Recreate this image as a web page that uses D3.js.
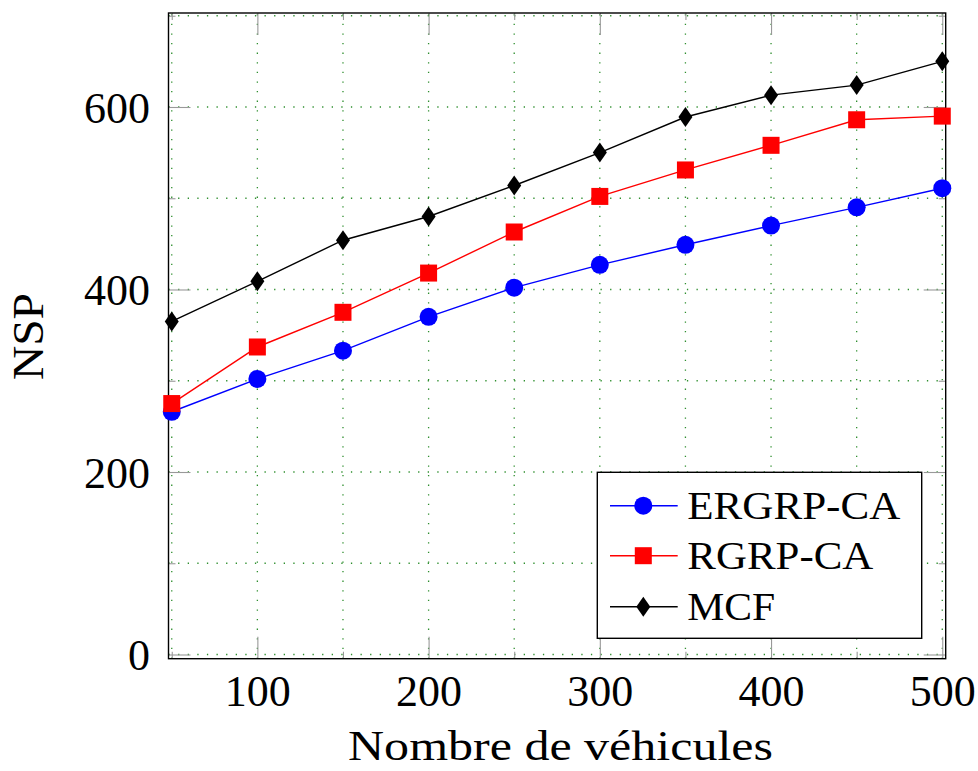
<!DOCTYPE html>
<html><head><meta charset="utf-8">
<script src="https://cdn.jsdelivr.net/npm/d3@7"></script>
<style>body{margin:0;background:#fff} svg{display:block}</style>
</head><body>
<script>
// ---- data ----
const vehicles = [50, 100, 150, 200, 250, 300, 350, 400, 450, 500];
const ergrpCA = [266, 302, 333, 370, 402, 427, 449, 470, 490, 511];
const rgrpCA  = [275, 337, 375, 418, 463, 502, 531, 558, 586, 590];
const mcf     = [365, 409, 454, 480, 514, 550, 589, 613, 624, 650];
const seriesNames = ["ERGRP-CA", "RGRP-CA", "MCF"];
const xMajorTicks = [100, 200, 300, 400, 500];
const xMinorTicks = [50, 150, 250, 350, 450];
const yMajorTicks = [0, 200, 400, 600];
const yMinorTicks = [100, 300, 500, 700];
const xLabel = "Nombre de véhicules";
const yLabel = "NSP";

// ---- layout ----
const W = 978, H = 771;
const L = 168.5, R = 945.7, T = 13, B = 658.7;
const FONT = "'Liberation Serif','Times New Roman',serif";

const svg = d3.select("body").append("svg").attr("width", W).attr("height", H);

const x = d3.scaleLinear().domain([48.1, 502]).range([L, R]);
const y = d3.scaleLinear().domain([-4.6, 703]).range([B, T]);

// grid (dotted green) at every 50 / 100
const gridX = xMinorTicks.concat(xMajorTicks);
const gridY = yMinorTicks.concat(yMajorTicks);
const gridStyle = g => g.attr("stroke", "#2f8f2f").attr("stroke-width", 1.3)
  .attr("stroke-dasharray", "1.3,8.3").attr("fill", "none");
svg.append("g").selectAll("line").data(gridX).join("line")
  .attr("x1", d => x(d)).attr("x2", d => x(d)).attr("y1", B).attr("y2", T)
  .call(gridStyle);
svg.append("g").selectAll("line").data(gridY).join("line")
  .attr("x1", L).attr("x2", R).attr("y1", d => y(d)).attr("y2", d => y(d))
  .call(gridStyle);

// inside ticks (gray) using d3 axes
function tickAxis(axisFn, scale, vals, size, transform) {
  const g = svg.append("g").attr("transform", transform)
    .call(axisFn(scale).tickValues(vals).tickSize(size).tickFormat(""));
  g.select(".domain").remove();
  g.selectAll(".tick line").attr("stroke", "#999").attr("stroke-width", 1.1);
}
tickAxis(d3.axisBottom, x, xMajorTicks, -22, `translate(0,${B})`);
tickAxis(d3.axisBottom, x, xMinorTicks, -7, `translate(0,${B})`);
tickAxis(d3.axisTop, x, xMajorTicks, -22, `translate(0,${T})`);
tickAxis(d3.axisTop, x, xMinorTicks, -7, `translate(0,${T})`);
tickAxis(d3.axisLeft, y, yMajorTicks, -22, `translate(${L},0)`);
tickAxis(d3.axisLeft, y, yMinorTicks, -7, `translate(${L},0)`);
tickAxis(d3.axisRight, y, yMajorTicks, -22, `translate(${R},0)`);
tickAxis(d3.axisRight, y, yMinorTicks, -7, `translate(${R},0)`);

// tick labels via axes
const xa = svg.append("g").attr("transform", `translate(0,${B})`)
  .call(d3.axisBottom(x).tickValues(xMajorTicks).tickSize(0).tickPadding(0));
xa.select(".domain").remove();
xa.selectAll("text").attr("font-family", FONT).attr("font-size", 44).attr("fill", "#000")
  .attr("dy", null).attr("y", 706 - B);
const ya = svg.append("g").attr("transform", `translate(${L},0)`)
  .call(d3.axisLeft(y).tickValues(yMajorTicks).tickSize(0).tickPadding(0));
ya.select(".domain").remove();
ya.selectAll("text").attr("font-family", FONT).attr("font-size", 44).attr("fill", "#000")
  .attr("x", 150 - L).attr("dy", "0.35em");

// frame
svg.append("rect").attr("x", L).attr("y", T).attr("width", R - L).attr("height", B - T)
  .attr("fill", "none").attr("stroke", "#000").attr("stroke-width", 1.4);

// series
const symbols = ["circle", "square", "diamond"];
const colors = ["#0000ff", "#ff0000", "#000000"];
const allSeries = [ergrpCA, rgrpCA, mcf];

function marker(g, kind, color) {
  if (kind === "circle") {
    g.append("circle").attr("r", 9).attr("fill", color);
  } else if (kind === "square") {
    g.append("rect").attr("x", -8.5).attr("y", -8.5).attr("width", 17).attr("height", 17).attr("fill", color);
  } else {
    g.append("path").attr("d", "M0,-10L7,0L0,10L-7,0Z").attr("fill", color);
  }
}

const line = d3.line().x((d, i) => x(vehicles[i])).y(d => y(d));
allSeries.forEach((vals, si) => {
  svg.append("path").datum(vals).attr("d", line).attr("fill", "none")
    .attr("stroke", colors[si]).attr("stroke-width", 1.4);
});
allSeries.forEach((vals, si) => {
  vals.forEach((v, i) => {
    const g = svg.append("g").attr("transform", `translate(${x(vehicles[i])},${y(v)})`);
    marker(g, symbols[si], colors[si]);
  });
});

// legend
const lg = svg.append("g");
lg.append("rect").attr("x", 597.3).attr("y", 472.3).attr("width", 324.4).attr("height", 166)
  .attr("fill", "#fff").attr("stroke", "#000").attr("stroke-width", 1.4);
const rowY = [505.7, 555.7, 606.7];
const legendWidths = [213, 186, 88];
seriesNames.forEach((name, si) => {
  lg.append("line").attr("x1", 610).attr("x2", 677.7).attr("y1", rowY[si]).attr("y2", rowY[si])
    .attr("stroke", colors[si]).attr("stroke-width", 1.4);
  const g = lg.append("g").attr("transform", `translate(643.3,${rowY[si]})`);
  marker(g, symbols[si], colors[si]);
  lg.append("text").attr("x", 687.3).attr("y", rowY[si]).attr("dy", "0.34em")
    .attr("font-family", FONT).attr("font-size", 40).attr("fill", "#000")
    .attr("textLength", legendWidths[si]).attr("lengthAdjust", "spacingAndGlyphs")
    .text(name);
});

// axis titles
svg.append("text").attr("x", 560.5).attr("y", 760).attr("text-anchor", "middle")
  .attr("font-family", FONT).attr("font-size", 42).attr("fill", "#000")
  .attr("textLength", 425).attr("lengthAdjust", "spacingAndGlyphs")
  .text(xLabel);
svg.append("text").attr("transform", `translate(43,336.5) rotate(-90)`).attr("text-anchor", "middle")
  .attr("font-family", FONT).attr("font-size", 44).attr("fill", "#000")
  .attr("textLength", 87).attr("lengthAdjust", "spacingAndGlyphs")
  .text(yLabel);
</script>
</body></html>
